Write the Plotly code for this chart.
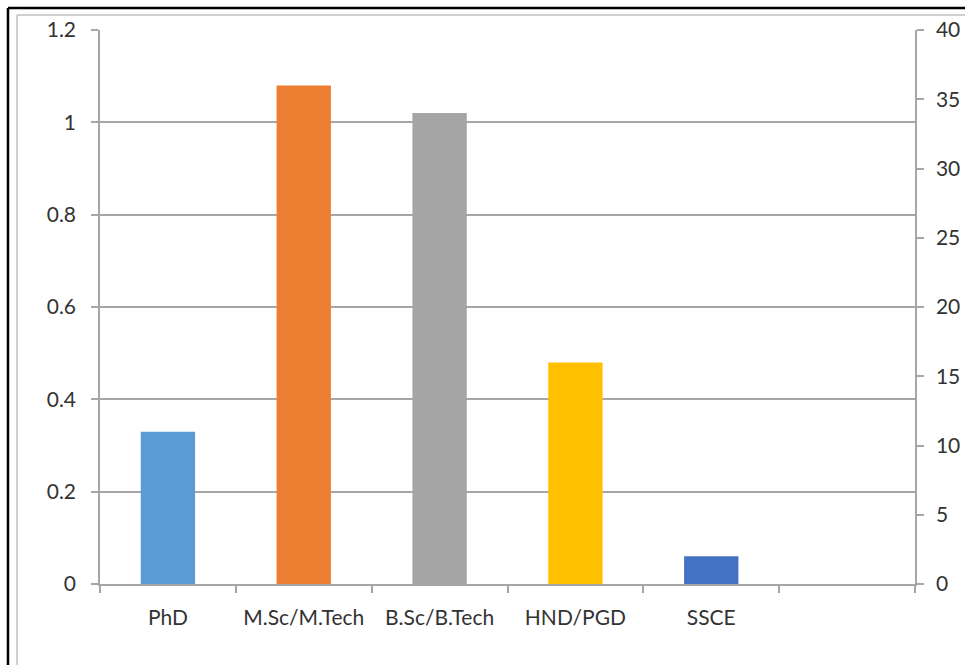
import plotly.graph_objects as go

categories = ["PhD", "M.Sc/M.Tech", "B.Sc/B.Tech", "HND/PGD", "SSCE", " "]
values = [11, 36, 34, 16, 2, None]
colors = ["#5B9BD5", "#ED7D31", "#A5A5A5", "#FFC000", "#4472C4", "#FFFFFF"]
left_ticks = [0, 0.2, 0.4, 0.6, 0.8, 1, 1.2]
left_labels = ["0", "0.2", "0.4", "0.6", "0.8", "1", "1.2"]
right_ticks = [0, 5, 10, 15, 20, 25, 30, 35, 40]

FONT = dict(family="Lato, Calibri, sans-serif", size=21, color="#333333")
GRID = "#A6A6A6"

fig = go.Figure()
# invisible trace to carry the left axis
fig.add_trace(go.Scatter(x=categories, y=[None] * len(categories), yaxis="y",
                         mode="markers", showlegend=False, hoverinfo="skip"))
fig.add_trace(go.Bar(x=categories, y=values, marker=dict(color=colors, line=dict(width=0)),
                     yaxis="y2", showlegend=False))

fig.update_layout(
    width=965, height=665, autosize=False,
    margin=dict(l=100, r=50, t=30, b=81),
    paper_bgcolor="white", plot_bgcolor="white",
    bargap=0.6,
    font=FONT,
    xaxis=dict(type="category", categoryorder="array", categoryarray=categories,
               range=[-0.5, 5.5], tickson="boundaries", ticks="outside", ticklen=7,
               tickcolor=GRID, tickwidth=1.5, showline=True, linecolor=GRID, linewidth=1.5,
               showgrid=False, ticklabelstandoff=14, tickfont=FONT, automargin=False),
    yaxis=dict(range=[0, 1.2], tickvals=left_ticks, ticktext=left_labels,
               showgrid=True, gridcolor=GRID, gridwidth=1.5, showline=True,
               linecolor=GRID, linewidth=1.5, ticks="outside", ticklen=7, tickcolor=GRID,
               tickwidth=1.5, ticklabelstandoff=11, zeroline=False, tickfont=FONT,
               automargin=False),
    yaxis2=dict(range=[0, 40], tickvals=right_ticks, overlaying="y", side="right",
                showgrid=False, showline=True, linecolor=GRID, linewidth=1.5,
                ticks="outside", ticklen=7, tickcolor=GRID, tickwidth=1.5,
                ticklabelstandoff=8, zeroline=False, tickfont=FONT, automargin=False),
    shapes=[
        # outer black frame
        dict(type="line", xref="paper", yref="paper", x0=-0.1129, x1=-0.1129, y0=-0.2, y1=1.0397,
             line=dict(color="black", width=2.5)),
        dict(type="line", xref="paper", yref="paper", x0=-0.1129, x1=1.1, y0=1.0397, y1=1.0397,
             line=dict(color="black", width=2.5)),
        # inner gray chart-area border
        dict(type="line", xref="paper", yref="paper", x0=-0.1018, x1=-0.1018, y0=-0.2, y1=1.0271,
             line=dict(color="#BFBFBF", width=1.5)),
        dict(type="line", xref="paper", yref="paper", x0=-0.1018, x1=1.1, y0=1.0271, y1=1.0271,
             line=dict(color="#BFBFBF", width=1.5)),
    ],
)

fig.write_html("out.html",
               config={"displayModeBar": False, "responsive": False},
               post_script="document.body.style.margin='0';document.body.style.overflow='hidden';")
